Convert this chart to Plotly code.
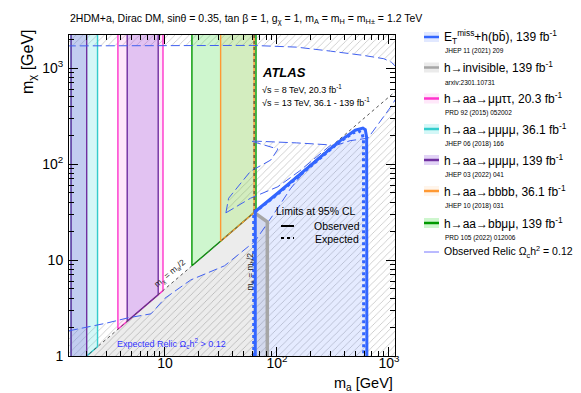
import plotly.graph_objects as go
import numpy as np

# ---- data (GeV) ----
# h->aa exclusion bands in m_a, bounded below by m_chi = m_a/2
pink_ma = [3.8, 9.6]        # h->aa->mumutautau 20.3 fb-1
cyan_ma = [1.45, 2.5]       # h->aa->mumumumu 36.1 fb-1
purple_ma_1 = [1.45, 2.0]   # h->aa->mumumumu 139 fb-1
purple_ma_2 = [4.6, 8.7]
orange_ma = [31.4, 62.5]    # h->aa->bbbb 36.1 fb-1
green_ma = [17.4, 65.0]     # h->aa->bbmumu 139 fb-1

# ETmiss + h(bb) contour
obs_ma = [64, 64, 100, 200, 350, 500, 585, 615, 632, 635]
obs_mchi = [1, 32, 49, 98, 168, 225, 237, 228, 190, 1]
exp_ma = [62, 62, 100, 200, 350, 480, 540, 575, 592, 595]
exp_mchi = [1, 31, 48, 96, 165, 212, 220, 210, 180, 1]

# h->invisible
hinv_ma = [62.5, 72, 82, 82]
hinv_mchi = [31.25, 28, 25, 1]

# relic density Omega h^2 = 0.12 contour
relic_low_ma = [1.39, 3.0, 4.7, 7.5, 10, 17, 34, 64, 102, 133, 200, 303, 450, 650, 1048, 1300]
relic_low_mchi = [1.83, 2.2, 2.5, 2.75, 4.0, 6.2, 8.7, 15.8, 35, 56, 100, 150, 175, 186, 400, 600]
relic_top_ma = [1300, 1050, 900, 600, 300, 150, 60, 1.39]
relic_top_mchi = [900, 1150, 1250, 1350, 1500, 1650, 1720, 1700]
island_ma = [35, 58, 102, 160, 303, 150, 58, 102, 88, 58, 37, 35]
island_mchi = [31, 44, 58, 85, 158, 166, 174, 143, 110, 84, 44, 31]

leg_labels = ["E<sub>T</sub><sup>miss</sup>+h(bb\u0304), 139 fb<sup>-1</sup>",
              "h\u2192invisible, 139 fb<sup>-1</sup>",
              "h\u2192aa\u2192\u03bc\u03bc\u03c4\u03c4, 20.3 fb<sup>-1</sup>",
              "h\u2192aa\u2192\u03bc\u03bc\u03bc\u03bc, 36.1 fb<sup>-1</sup>",
              "h\u2192aa\u2192\u03bc\u03bc\u03bc\u03bc, 139 fb<sup>-1</sup>",
              "h\u2192aa\u2192bbbb, 36.1 fb<sup>-1</sup>",
              "h\u2192aa\u2192bb\u03bc\u03bc, 139 fb<sup>-1</sup>",
              "Observed Relic \u03a9<sub>c</sub>h<sup>2</sup> = 0.12"]
leg_refs = ["JHEP 11 (2021) 209", "arxiv:2301.10731", "PRD 92 (2015) 052002",
            "JHEP 06 (2018) 166", "JHEP 03 (2022) 041", "JHEP 10 (2018) 031",
            "PRD 105 (2022) 012006", ""]

# ---- style ----
BLUE = "#3366ff"
GRAY = "#a6a6a6"
RELIC = "#4060f0"
colors = dict(pink=("#ff33cc", "rgba(255,100,220,0.15)"),
              cyan=("#33cccc", "rgba(60,220,220,0.22)"),
              purple=("#7030a0", "rgba(140,80,220,0.25)"),
              orange=("#ff9933", "rgba(255,160,60,0.10)"),
              green=("#009900", "rgba(60,220,60,0.25)"))
leg_colors = [(BLUE, "rgba(51,102,255,0.15)"), (GRAY, "rgba(0,0,0,0.08)"),
              colors["pink"], colors["cyan"], colors["purple"],
              colors["orange"], colors["green"], ("#7777ff", None)]

FONT = "Liberation Sans, Arial, sans-serif"
X_RANGE = [0.143, 3.054]
Y_RANGE = [0.0, 3.344]
TOP = 1e4
# plot area in pixels (for placing text)
PX0, PX1, PY0, PY1 = 61, 387, 27, 348


def px(x):
    return (x - PX0) / (PX1 - PX0)


def py(y):
    return (PY1 - y) / (PY1 - PY0)


hatch = dict(shape="/", fgcolor="#8c8c8c", bgcolor="rgba(0,0,0,0)", size=5, solidity=0.16, fillmode="overlay")

fig = go.Figure()

# hatched background (relic overabundant)
fig.add_trace(go.Scatter(x=[1, 1, 2000, 2000, 1], y=[0.5, 5000, 5000, 0.5, 0.5], fill="toself",
                         fillcolor="rgba(0,0,0,0)", fillpattern=hatch, mode="none", hoverinfo="skip"))
# white region (underabundant)
fig.add_trace(go.Scatter(x=relic_low_ma + relic_top_ma, y=relic_low_mchi + relic_top_mchi, fill="toself",
                         fillcolor="white", mode="none", hoverinfo="skip"))
fig.add_trace(go.Scatter(x=island_ma, y=island_mchi, fill="toself", fillcolor="rgba(0,0,0,0)",
                         fillpattern=hatch, mode="none", hoverinfo="skip"))

# h->invisible excluded region
fig.add_trace(go.Scatter(x=[2.0] + hinv_ma + [2.0], y=[1.0] + hinv_mchi + [1.0], fill="toself",
                         fillcolor="rgba(0,0,0,0.075)", mode="none", hoverinfo="skip"))
# ETmiss+h(bb) excluded region
fig.add_trace(go.Scatter(x=obs_ma, y=obs_mchi, fill="toself", fillcolor="rgba(51,102,255,0.13)",
                         mode="none", hoverinfo="skip"))

# h->aa bands
for rng, key in [(cyan_ma, "cyan"), (purple_ma_1, "purple"), (pink_ma, "pink"), (purple_ma_2, "purple"),
                 (green_ma, "green"), (orange_ma, "orange")]:
    lc, fc = colors[key]
    lo, hi = rng
    fig.add_trace(go.Scatter(x=[lo, lo, hi, hi, lo], y=[lo / 2, TOP, TOP, hi / 2, lo / 2], fill="toself",
                             fillcolor=fc, mode="lines", line=dict(color=lc, width=1.4), hoverinfo="skip"))

# relic contour lines
fig.add_trace(go.Scatter(x=relic_low_ma + [1300] + relic_top_ma, y=relic_low_mchi + [900] + relic_top_mchi,
                         mode="lines", line=dict(color=RELIC, width=1, dash="9px,4px"), hoverinfo="skip"))
fig.add_trace(go.Scatter(x=island_ma, y=island_mchi, mode="lines",
                         line=dict(color=RELIC, width=1, dash="9px,4px"), hoverinfo="skip"))

# kinematic lines
fig.add_trace(go.Scatter(x=[1.0, 3000], y=[0.5, 1500], mode="lines",
                         line=dict(color="#555555", width=1, dash="dot"), hoverinfo="skip"))
fig.add_trace(go.Scatter(x=[62.5, 62.5], y=[1, 5000], mode="lines",
                         line=dict(color="#333333", width=1, dash="dot"), hoverinfo="skip"))

# h->invisible line
fig.add_trace(go.Scatter(x=hinv_ma, y=hinv_mchi, mode="lines", line=dict(color=GRAY, width=3.5),
                         hoverinfo="skip"))
# ETmiss + h(bb)
fig.add_trace(go.Scatter(x=exp_ma, y=exp_mchi, mode="lines", line=dict(color=BLUE, width=3, dash="dot"),
                         hoverinfo="skip"))
fig.add_trace(go.Scatter(x=obs_ma, y=obs_mchi, mode="lines", line=dict(color=BLUE, width=3),
                         hoverinfo="skip"))

# ---- legend drawn by hand ----
rows_y = [29, 59.5, 90.5, 121, 152, 183, 215, 244]
shapes = []
annots = []
for lab, ref, (lc, fc), yy in zip(leg_labels, leg_refs, leg_colors, rows_y):
    if fc is not None:
        shapes.append(dict(type="rect", xref="paper", yref="paper", x0=px(416), x1=px(431),
                           y0=py(yy + 5), y1=py(yy - 5), fillcolor=fc, line_width=0))
        shapes.append(dict(type="line", xref="paper", yref="paper", x0=px(416), x1=px(431),
                           y0=py(yy), y1=py(yy), line=dict(color=lc, width=2.5)))
    else:
        shapes.append(dict(type="line", xref="paper", yref="paper", x0=px(416), x1=px(431),
                           y0=py(yy), y1=py(yy), line=dict(color=lc, width=1)))
    annots.append(dict(x=px(434), y=py(yy), xref="paper", yref="paper", text=lab, showarrow=False,
                       xanchor="left", yanchor="middle", font=dict(size=12 if fc else 10.5, color="black")))
    if ref:
        annots.append(dict(x=px(435), y=py(yy + 14.5), xref="paper", yref="paper", text=ref, showarrow=False,
                           xanchor="left", yanchor="middle", font=dict(size=6.5, color="black")))

# observed / expected key
shapes.append(dict(type="line", xref="paper", yref="paper", x0=px(273), x1=px(286), y0=py(218), y1=py(218),
                   line=dict(color="black", width=2)))
shapes.append(dict(type="line", xref="paper", yref="paper", x0=px(273), x1=px(286), y0=py(230), y1=py(230),
                   line=dict(color="black", width=2, dash="3px,3px")))
annots += [
    dict(x=px(266), y=py(203), text="Limits at 95% CL", xanchor="left", font=dict(size=10.5)),
    dict(x=px(304), y=py(218), text="Observed", xanchor="left", font=dict(size=10.5)),
    dict(x=px(305), y=py(231), text="Expected", xanchor="left", font=dict(size=10.5)),
    dict(x=px(252), y=py(64), text="<b><i>ATLAS</i></b>", xanchor="left", font=dict(size=13)),
    dict(x=px(252), y=py(81), text="\u221as = 8 TeV, 20.3 fb<sup>-1</sup>", xanchor="left", font=dict(size=9)),
    dict(x=px(252), y=py(94), text="\u221as = 13 TeV, 36.1 - 139 fb<sup>-1</sup>", xanchor="left",
         font=dict(size=9)),
    dict(x=px(107), y=py(335), text="Expected Relic \u03a9<sub>c</sub>h<sup>2</sup> > 0.12", xanchor="left",
         font=dict(size=9, color="#3333ff")),
    dict(x=px(60), y=py(11), text="2HDM+a, Dirac DM, sin\u03b8 = 0.35, tan \u03b2 = 1, g<sub>\u03c7</sub> = 1, "
                                   "m<sub>A</sub> = m<sub>H</sub> = m<sub>H\u00b1</sub> = 1.2 TeV",
         xanchor="left", font=dict(size=10.5)),
    dict(x=px(20), y=py(54), text="m<sub>\u03c7</sub> [GeV]", textangle=-90, xanchor="center",
         font=dict(size=16)),
    dict(x=px(387), y=py(376), text="m<sub>a</sub> [GeV]", xanchor="right", yanchor="middle",
         font=dict(size=14.5)),
]
for a in annots:
    a.setdefault("xref", "paper")
    a.setdefault("yref", "paper")
    a.setdefault("showarrow", False)
    a.setdefault("yanchor", "middle")
    a["font"].setdefault("color", "black")

# in-plot rotated labels (data coords, log10 for log axes)
annots.append(dict(x=np.log10(11.0), y=np.log10(7.3), xref="x", yref="y", text="m<sub>\u03c7</sub> = m<sub>a</sub>/2",
                   textangle=-40.6, showarrow=False, font=dict(size=8.5, color="#222222")))
annots.append(dict(x=np.log10(57), y=np.log10(7.5), xref="x", yref="y", text="m<sub>a</sub> = m<sub>h</sub>/2",
                   textangle=-90, showarrow=False, font=dict(size=8.5, color="#222222")))

axis_common = dict(type="log", showgrid=False, zeroline=False, showline=True, linecolor="black", linewidth=1,
                   mirror="allticks", ticks="inside", ticklen=9, tickcolor="black",
                   minor=dict(ticks="inside", ticklen=5, tickcolor="black", dtick="D1", showgrid=False),
                   tickfont=dict(size=14, color="black", family=FONT))

fig.update_layout(
    width=581, height=393, autosize=False,
    margin=dict(l=PX0, r=581 - PX1, t=PY0, b=393 - PY1),
    paper_bgcolor="white", plot_bgcolor="white",
    showlegend=False,
    font=dict(family=FONT, color="black"),
    xaxis=dict(axis_common, range=X_RANGE, tickvals=[10, 100, 1000],
               ticktext=["10", "10<sup>2</sup>", "10<sup>3</sup>"], ticklabelstandoff=-6),
    yaxis=dict(axis_common, range=Y_RANGE, tickvals=[1, 10, 100, 1000],
               ticktext=["1", "10", "10<sup>2</sup>", "10<sup>3</sup>"], ticklabelstandoff=2),
    shapes=shapes,
    annotations=annots,
)

fig.write_html("out.html")
